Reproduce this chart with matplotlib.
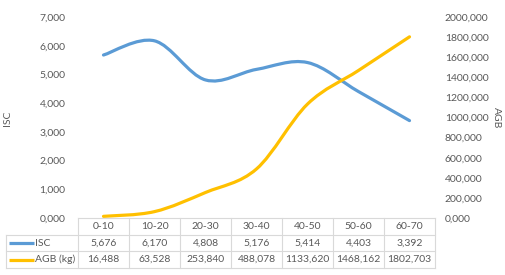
import numpy as np
import matplotlib
matplotlib.use('Agg')
import matplotlib.pyplot as plt
from matplotlib.path import Path
from matplotlib.patches import PathPatch
from matplotlib.lines import Line2D
from matplotlib.transforms import blended_transform_factory

# data
classes = ['0-10', '10-20', '20-30', '30-40', '40-50', '50-60', '60-70']
isc = [5676, 6170, 4808, 5176, 5414, 4403, 3392]
agb = [16488, 63528, 253840, 488078, 1133620, 1468162, 1802703]
isc_labels = ['5,676', '6,170', '4,808', '5,176', '5,414', '4,403', '3,392']
agb_labels = ['16,488', '63,528', '253,840', '488,078', '1133,620', '1468,162', '1802,703']
left_ticks = [0, 1000, 2000, 3000, 4000, 5000, 6000, 7000]
left_ticklabels = ['0,000', '1,000', '2,000', '3,000', '4,000', '5,000', '6,000', '7,000']
right_ticks = [0, 200000, 400000, 600000, 800000, 1000000, 1200000, 1400000,
               1600000, 1800000, 2000000]
right_ticklabels = ['0,000', '200,000', '400,000', '600,000', '800,000', '1000,000',
                    '1200,000', '1400,000', '1600,000', '1800,000', '2000,000']

BLUE = '#5B9BD5'
YELLOW = '#FFC000'
GREY = '#595959'
GRID = '#D9D9D9'
FONT = 'Lato'
FS = 7.5

W, H = 506, 275


def smooth_path(xs, ys):
    # excel style smoothed line: catmull-rom as cubic beziers
    pts = np.column_stack([xs, ys]).astype(float)
    n = len(pts)
    verts = [pts[0]]
    codes = [Path.MOVETO]
    for i in range(n - 1):
        p0 = pts[max(i - 1, 0)]
        p1 = pts[i]
        p2 = pts[i + 1]
        p3 = pts[min(i + 2, n - 1)]
        c1 = p1 + (p2 - p0) / 6.0
        c2 = p2 - (p3 - p1) / 6.0
        verts += [c1, c2, p2]
        codes += [Path.CURVE4] * 3
    return Path(verts, codes)


fig = plt.figure(figsize=(W / 100, H / 100), dpi=100)
ax = fig.add_axes([78 / W, 1 - 218 / H, (435 - 78) / W, (218 - 17) / H])
ax2 = ax.twinx()

x = np.arange(len(classes))

ax.add_patch(PathPatch(smooth_path(x, isc), facecolor='none', edgecolor=BLUE,
                       lw=2.3, capstyle='round', zorder=3))
ax2.add_patch(PathPatch(smooth_path(x, agb), facecolor='none', edgecolor=YELLOW,
                        lw=2.3, capstyle='round', zorder=3))

ax.set_xlim(-0.5, len(classes) - 0.5)
ax.set_ylim(0, 7000)
ax2.set_ylim(0, 2000000)

ax.set_yticks(left_ticks)
ax.set_yticklabels(left_ticklabels)
ax2.set_yticks(right_ticks)
ax2.set_yticklabels(right_ticklabels)
ax.set_xticks([])

for a in (ax, ax2):
    for s in a.spines.values():
        s.set_visible(False)
    a.tick_params(axis='y', length=0, labelsize=FS, labelcolor=GREY)
    for tl in a.get_yticklabels():
        tl.set_fontfamily(FONT)
ax.tick_params(axis='y', pad=9)
ax2.tick_params(axis='y', pad=7)
for tl in ax2.get_yticklabels():
    tl.set_horizontalalignment('left')

fig.text(8 / W, 1 - 118 / H, 'ISC', rotation=90, ha='center', va='center',
         fontsize=FS, color=GREY, family=FONT)
fig.text(496 / W, 1 - 118 / H, 'AGB', rotation=270, ha='center', va='center',
         fontsize=FS, color=GREY, family=FONT)

# data table under the plot
tr = blended_transform_factory(ax.transData, fig.transFigure)
row_y = [218, 235, 251, 268]
fy = lambda py: 1 - py / H
fx = lambda px: px / W
edges = np.arange(len(classes) + 1) - 0.5

# horizontal lines
fig.add_artist(Line2D([edges[0], edges[-1]], [fy(row_y[0])] * 2, transform=tr,
                      color=GRID, lw=0.8))
for py in row_y[1:]:
    fig.add_artist(Line2D([fx(6), fx(435)], [fy(py)] * 2, transform=fig.transFigure,
                          color=GRID, lw=0.8))
# vertical lines
for e in edges:
    fig.add_artist(Line2D([e, e], [fy(row_y[0]), fy(row_y[-1])], transform=tr,
                          color=GRID, lw=0.8))
fig.add_artist(Line2D([fx(6), fx(6)], [fy(row_y[1]), fy(row_y[-1])],
                      transform=fig.transFigure, color=GRID, lw=0.8))

rows = [classes, isc_labels, agb_labels]
for r, vals in enumerate(rows):
    yc = fy((row_y[r] + row_y[r + 1]) / 2)
    for i, v in enumerate(vals):
        fig.text(x[i], yc, v, transform=tr, ha='center', va='center',
                 fontsize=FS, color=GREY, family=FONT)

# row labels with legend keys
for r, (lab, col) in enumerate([('ISC', BLUE), ('AGB (kg)', YELLOW)], start=1):
    yc = fy((row_y[r] + row_y[r + 1]) / 2)
    fig.add_artist(Line2D([fx(9), fx(34)], [yc, yc], transform=fig.transFigure,
                          color=col, lw=2.3, solid_capstyle='butt'))
    fig.text(fx(35), yc, lab, ha='left', va='center', fontsize=FS, color=GREY,
             family=FONT)

fig.savefig('out.png', dpi=100)
